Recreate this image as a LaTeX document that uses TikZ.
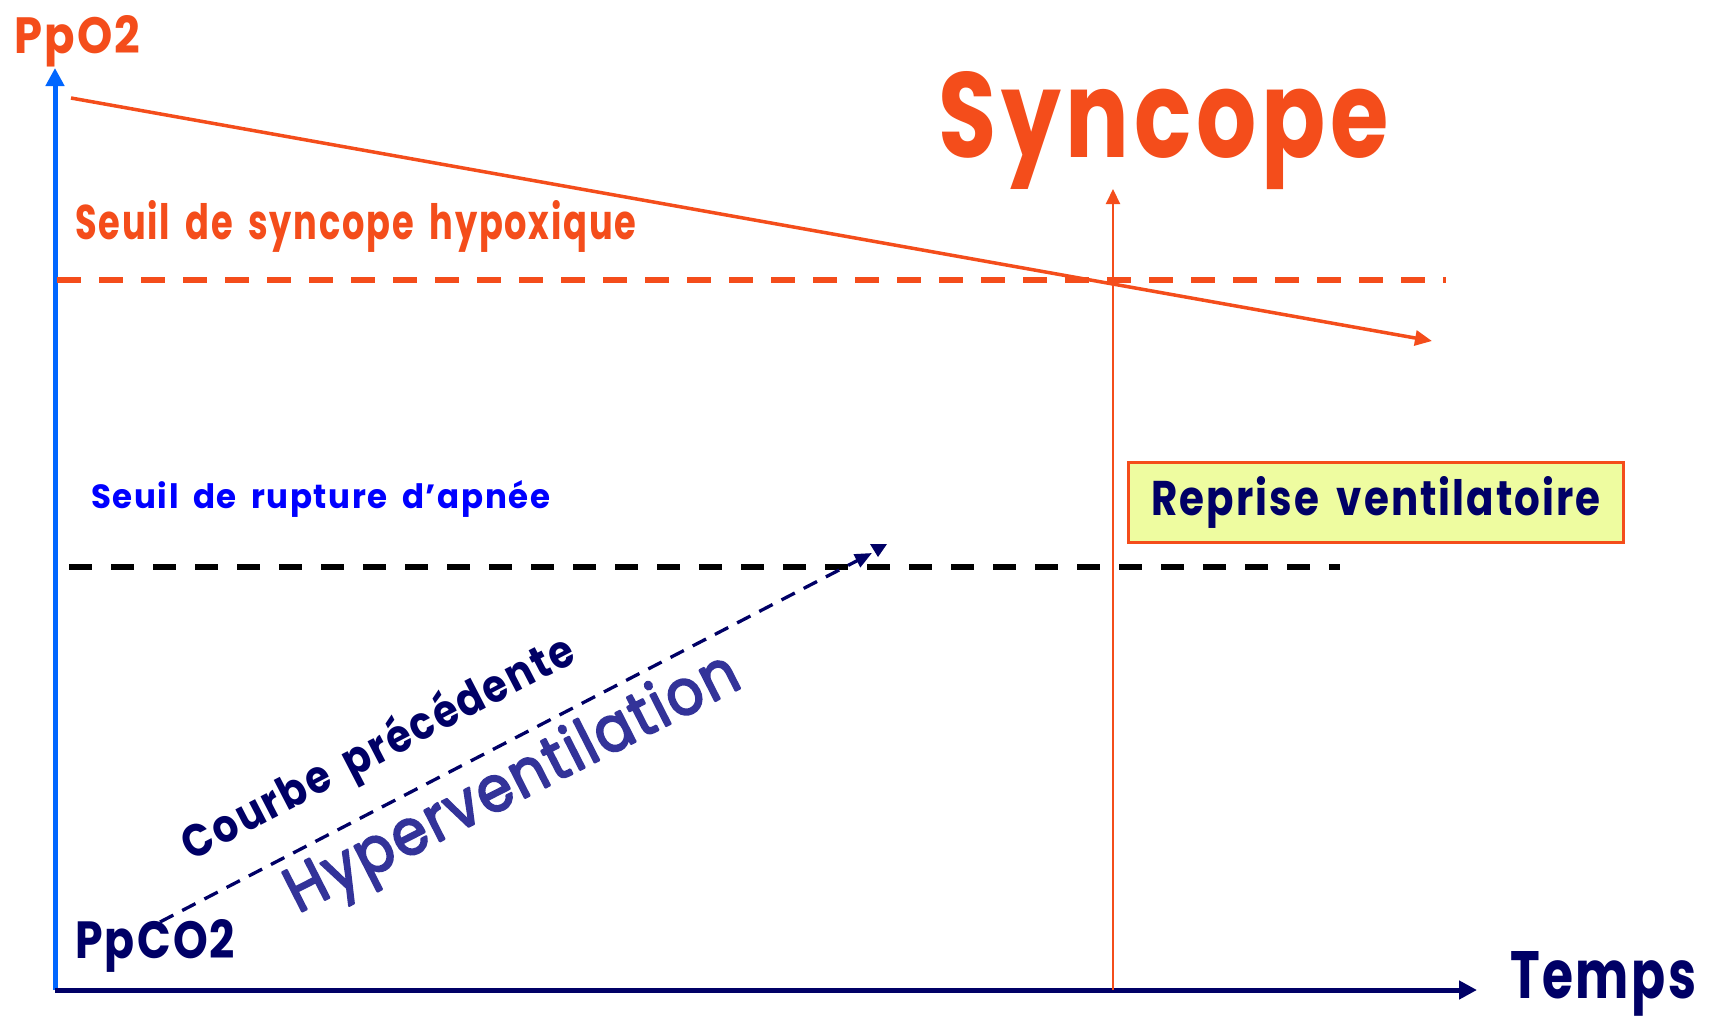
\documentclass[tikz,border=0pt]{standalone}
\usepackage{graphicx}
\usepackage{fontspec}
\setmainfont{Poppins}[LetterSpace=5, WordSpace=1.7]
\newfontfamily\hypfont{Poppins}[LetterSpace=4]
\usetikzlibrary{arrows.meta}
\definecolor{ored}{HTML}{F44D1B}
\definecolor{navy}{HTML}{000066}
\definecolor{axblue}{HTML}{0066FF}
\definecolor{brblue}{HTML}{0000FF}
\definecolor{hyper}{HTML}{333399}
\definecolor{boxfill}{HTML}{EEFCA0}
\newcommand{\fitbox}[3]{\resizebox{#1pt}{#2pt}{#3}}
\newcommand{\thicktext}[1]{\special{pdf:literal direct 2 Tr 0.35 w 1 J 1 j}#1\special{pdf:literal direct 0 Tr 1 w}}
\begin{document}
\begin{tikzpicture}[x=1pt,y=-1pt,
  txt/.style={inner sep=0pt, font=\bfseries},
  axisline/.style={line width=5pt},
  bigtip/.style={-{Triangle[length=18pt,width=18pt]}},
  midtip/.style={-{Triangle[length=17pt,width=15pt]}},
  smalltip/.style={-{Triangle[length=15pt,width=14pt]}}
  ]
\useasboundingbox[fill=white] (0,0) rectangle (1711,1017);

% axes
\coordinate (O) at (55,990);
\coordinate (Ytop) at (55,68);
\coordinate (Xend) at (1477,990);
\draw[axisline, axblue, bigtip] (O) -- (Ytop);
\draw[axisline, navy, bigtip] (O) -- (Xend);

% thresholds
\coordinate (rd1) at (57,280);
\coordinate (rd2) at (1446,280);
\draw[ored, line width=6pt, dash pattern=on 24pt off 18pt] (rd1) -- (rd2);
\coordinate (bd1) at (69,567);
\coordinate (bd2) at (1340,567);
\draw[black, line width=5.5pt, dash pattern=on 23pt off 19pt] (bd1) -- (bd2);

% PpO2 decreasing line
\coordinate (r1) at (71,98);
\coordinate (r2) at (1432,341);
\draw[ored, line width=3.5pt, midtip] (r1) -- (r2);

% syncope vertical
\coordinate (v1) at (1113,990);
\coordinate (v2) at (1113,189);
\draw[ored, line width=2pt, smalltip] (v1) -- (v2);

% hyperventilation dashed curve
\coordinate (h1) at (160,922);
\coordinate (h2) at (872,553);
\draw[navy, line width=3.3pt, dash pattern=on 15pt off 10pt, -{Triangle[length=17pt,width=14pt]}] (h1) -- (h2);
\fill[navy] (870,544) -- (887,544) -- (878,557) -- cycle;

% labels
\node[txt, ored, anchor=base west] (ppo2) at (14,53) {\fitbox{126}{38}{PpO2}};
\node[txt, ored, anchor=base west] (sync) at (938,157) {\fitbox{450}{86}{Syncope}};
\node[txt, ored, anchor=base west] (seuil1) at (75,239) {\fitbox{561}{39}{Seuil de syncope hypoxique}};
\node[txt, brblue, anchor=base west] (seuil2) at (91,508) {\fitbox{459}{28}{Seuil de rupture d’apnée}};
\node[txt, navy, draw=ored, fill=boxfill, line width=3pt, minimum width=495pt, minimum height=80pt] (box) at (1376,502.5) {\fitbox{449}{39}{Reprise ventilatoire}};
\node[txt, navy, anchor=base west] (temps) at (1510,998) {\fitbox{186}{47}{Temps}};
\node[txt, navy, anchor=base west] (ppco2) at (75,958) {\fitbox{160}{39}{PpCO2}};
\node[txt, navy, anchor=base, rotate=27.4] (courbe) at (385,761) {\fitbox{435}{38}{Courbe précédente}};
\node[inner sep=0pt, hyper, anchor=base, rotate=27, font=\hypfont] (hyp) at (521,800) {\fitbox{500}{48}{\thicktext{Hyperventilation}}};
\end{tikzpicture}
\end{document}
